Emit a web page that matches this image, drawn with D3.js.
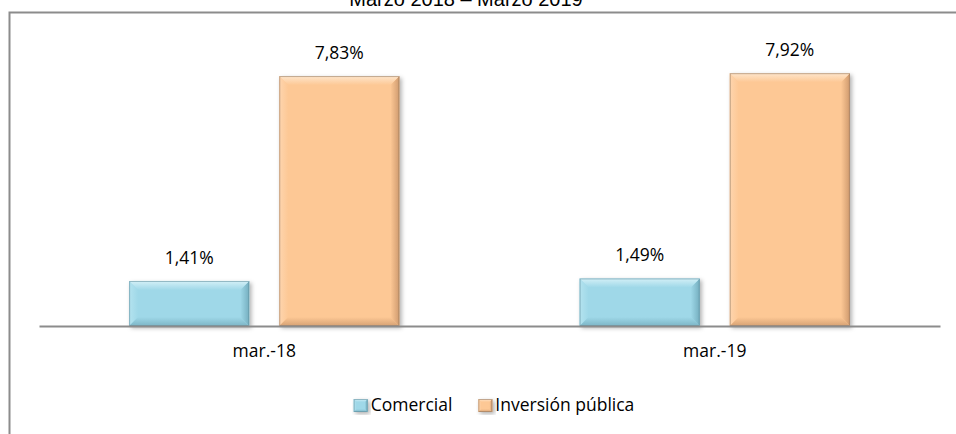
<!DOCTYPE html>
<html>
<head>
<meta charset="utf-8">
<script src="https://cdn.jsdelivr.net/npm/d3@7"></script>
<style>
  html, body { margin: 0; padding: 0; background: #fff; }
  svg { display: block; }
</style>
</head>
<body>
<svg id="chart" width="956" height="434"></svg>
<script>
// ---- data ----
const title = "Marzo 2018 \u2013 Marzo 2019";
const categories = ["mar.-18", "mar.-19"];
const seriesNames = ["Comercial", "Inversión pública"];
const comercial = [1.41, 1.49];
const inversion = [7.83, 7.92];
const valueLabels = [["1,41%", "1,49%"], ["7,83%", "7,92%"]];

// ---- styling ----
const palettes = [
  { id: "b", face: "#9fd8e8", top: "#d4f0f7", left: "#b4e3ef", right: "#74aebf", bottom: "#7cb5c6", stroke: "#5f8d9b" },
  { id: "o", face: "#fdc895", top: "#fee6cc", left: "#fed5ae", right: "#cf9a6e", bottom: "#d6a173", stroke: "#8f7660" }
];
const font = "'Open Sans', sans-serif";

const svg = d3.select("#chart");
const defs = svg.append("defs");
const f = defs.append("filter").attr("id", "shadow").attr("x", "-10%").attr("y", "-10%").attr("width", "130%").attr("height", "130%");
f.append("feDropShadow").attr("dx", 2).attr("dy", 2).attr("stdDeviation", 2).attr("flood-color", "#000").attr("flood-opacity", 0.3);

function grad(id, x1, y1, x2, y2, c1, c2) {
  const g = defs.append("linearGradient").attr("id", id)
    .attr("x1", x1).attr("y1", y1).attr("x2", x2).attr("y2", y2);
  g.append("stop").attr("offset", "0%").attr("stop-color", c1);
  g.append("stop").attr("offset", "100%").attr("stop-color", c2);
}
palettes.forEach(p => {
  grad(p.id + "T", 0, 0, 0, 1, p.top, p.face);
  grad(p.id + "L", 0, 0, 1, 0, p.left, p.face);
  grad(p.id + "R", 0, 0, 1, 0, p.face, p.right);
  grad(p.id + "B", 0, 0, 0, 1, p.face, p.bottom);
});

// frame (top and left borders visible, rest out of view)
svg.append("rect")
  .attr("x", 9.5).attr("y", 12.5).attr("width", 1200).attr("height", 1200)
  .attr("fill", "none").attr("stroke", "#8c8c8c").attr("stroke-width", 2);

// title (partly cut off at top, as in the reference)
svg.append("text")
  .attr("x", 466).attr("y", 6)
  .attr("text-anchor", "middle")
  .attr("font-family", "'Liberation Sans', Arial, sans-serif")
  .attr("font-size", 20)
  .attr("fill", "#000")
  .text(title);

// scales
const x0 = d3.scaleBand().domain(categories).range([39, 940]);
const x1 = d3.scaleBand().domain(seriesNames).range([0, x0.bandwidth()]).paddingInner(0.2).paddingOuter(0.6);
const y = d3.scaleLinear().domain([0, 9]).range([326, 38.7]);

const series = [comercial, inversion];

function bevelBar(g, x, yTop, w, h, pal, e) {
  const yb = yTop + h;
  const grp = g.append("g").attr("filter", "url(#shadow)");
  grp.append("rect").attr("x", x).attr("y", yTop).attr("width", w).attr("height", h).attr("fill", pal.face);
  const poly = (pts, fill) => grp.append("polygon").attr("points", pts.map(p => p.join(",")).join(" ")).attr("fill", fill);
  poly([[x, yTop], [x + e, yTop + e], [x + e, yb - e], [x, yb]], `url(#${pal.id}L)`);
  poly([[x + w, yTop], [x + w, yb], [x + w - e, yb - e], [x + w - e, yTop + e]], `url(#${pal.id}R)`);
  poly([[x, yb], [x + e, yb - e], [x + w - e, yb - e], [x + w, yb]], `url(#${pal.id}B)`);
  poly([[x, yTop], [x + w, yTop], [x + w - e, yTop + e], [x + e, yTop + e]], `url(#${pal.id}T)`);
  grp.append("rect").attr("x", x + 0.5).attr("y", yTop + 0.5).attr("width", w - 1).attr("height", h - 1)
    .attr("fill", "none").attr("stroke", pal.stroke).attr("stroke-width", 1).attr("stroke-opacity", 0.55);
}

// bars + value labels
const barsG = svg.append("g");
series.forEach((vals, si) => {
  categories.forEach((c, ci) => {
    const bx = x0(c) + x1(seriesNames[si]);
    const by = y(vals[ci]);
    const bh = y(0) - by;
    bevelBar(barsG, bx, by, x1.bandwidth(), bh, palettes[si], 9);
    svg.append("text")
      .attr("x", bx + x1.bandwidth() / 2)
      .attr("y", by - 17)
      .attr("text-anchor", "middle")
      .attr("font-family", font).attr("font-size", 17.5).attr("fill", "#000")
      .text(valueLabels[si][ci]);
  });
});

// category axis
const axis = d3.axisBottom(x0).tickSize(0).tickPadding(19);
const ag = svg.append("g").attr("transform", `translate(0,${y(0)})`).call(axis);
ag.select(".domain").attr("stroke", "#8c8c8c").attr("stroke-width", 2);
ag.selectAll(".tick text").attr("font-family", font).attr("font-size", 17.5).attr("fill", "#000");

// legend
const lg = svg.append("g");
let cx = 0;
seriesNames.forEach((n, i) => {
  const ig = lg.append("g");
  const sw = ig.append("g");
  bevelBar(sw, 0, -12, 14, 13, palettes[i], 3);
  const t = ig.append("text").attr("x", 17).attr("y", 0)
    .attr("font-family", font).attr("font-size", 17.5).attr("fill", "#000").text(n);
  const wdt = 17 + t.node().getComputedTextLength();
  ig.attr("transform", `translate(${cx},0)`);
  cx += wdt + 26;
});
const totalW = cx - 26;
lg.attr("transform", `translate(${494 - totalW / 2},411)`);
</script>
</body>
</html>
